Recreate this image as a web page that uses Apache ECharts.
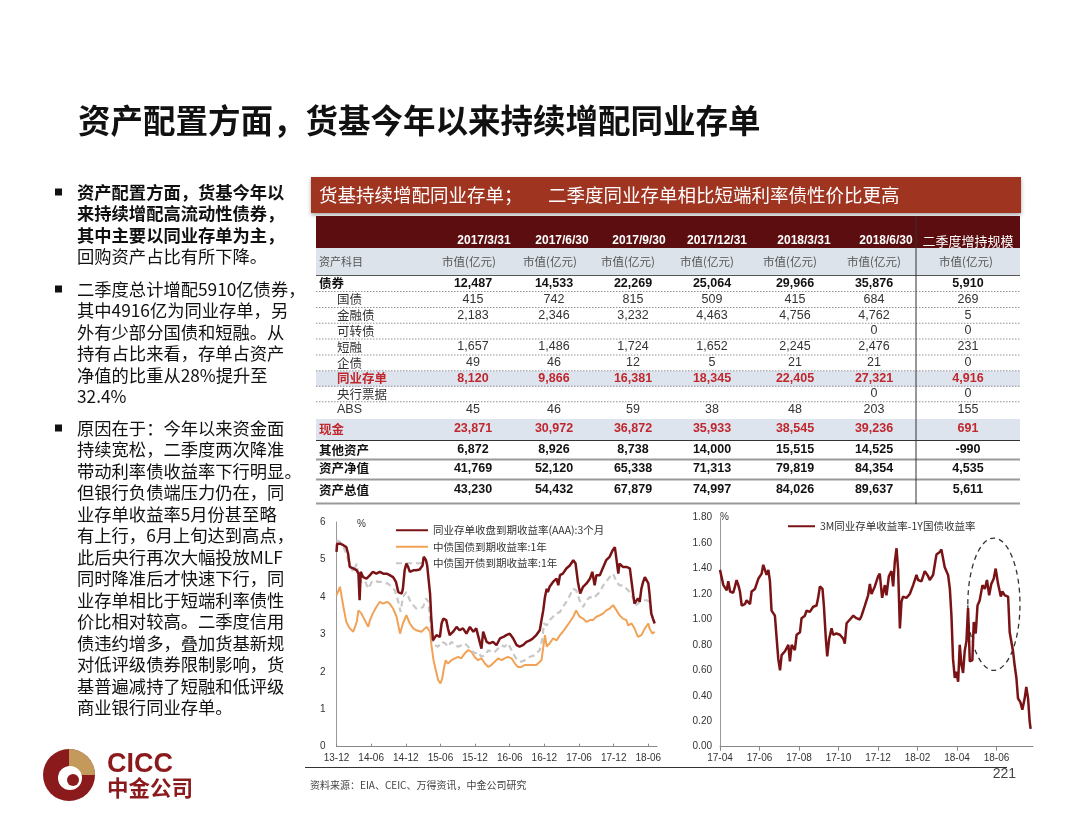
<!DOCTYPE html>
<html>

<head>
    <meta charset="utf-8" />
    <script src="https://cdn.jsdelivr.net/npm/echarts@6/dist/echarts.min.js"></script>
    <style>
        html, body { margin: 0; padding: 0; background: #fff; }
    </style>
</head>

<body>
    <div id="main" style="width: 1080px;height:834px;"></div>
    <script type="text/javascript">
        const SANS = '"Liberation Sans", Arial, "Noto Sans CJK SC", sans-serif';
        const CJK = '"Noto Sans CJK SC", sans-serif';
        const DARK_RED = '#7A1315';
        const HL_RED = '#C0272D';

        // ---- texts ----
        const TITLE = '资产配置方面，货基今年以来持续增配同业存单';
        const TABLE_TITLE_A = '货基持续增配同业存单；';
        const TABLE_TITLE_B = '二季度同业存单相比短端利率债性价比更高';
        const SOURCE = '资料来源：EIA、CEIC、万得资讯，中金公司研究';
        const PAGE_NO = '221';

        const para1 = ['资产配置方面，货基今年以', '来持续增配高流动性债券，', '其中主要以同业存单为主，', '回购资产占比有所下降。'];
        const para2 = ['二季度总计增配5910亿债券，', '其中4916亿为同业存单，另', '外有少部分国债和短融。从',
            '持有占比来看，存单占资产', '净值的比重从28%提升至', '32.4%'];
        const para3 = ['原因在于：今年以来资金面', '持续宽松，二季度两次降准', '带动利率债收益率下行明显。',
            '但银行负债端压力仍在，同', '业存单收益率5月份甚至略', '有上行，6月上旬达到高点，',
            '此后央行再次大幅投放MLF', '同时降准后才快速下行，同', '业存单相比于短端利率债性',
            '价比相对较高。二季度信用', '债违约增多，叠加货基新规', '对低评级债券限制影响，货',
            '基普遍减持了短融和低评级', '商业银行同业存单。'];

        // ---- table data (亿元) ----
        const tableDates = ['2017/3/31', '2017/6/30', '2017/9/30', '2017/12/31', '2018/3/31', '2018/6/30'];
        const lastHeader = '二季度增持规模';
        const rowLabels = ['债券', '国债', '金融债', '可转债', '短融', '企债', '同业存单', '央行票据', 'ABS',
            '现金', '其他资产', '资产净值', '资产总值'];
        const bonds = [12487, 14533, 22269, 25064, 29966, 35876, 5910];
        const govBonds = [415, 742, 815, 509, 415, 684, 269];
        const finBonds = [2183, 2346, 3232, 4463, 4756, 4762, 5];
        const convBonds = [null, null, null, null, null, 0, 0];
        const cps = [1657, 1486, 1724, 1652, 2245, 2476, 231];
        const corpBonds = [49, 46, 12, 5, 21, 21, 0];
        const ncds = [8120, 9866, 16381, 18345, 22405, 27321, 4916];
        const cbBills = [null, null, null, null, null, 0, 0];
        const abs = [45, 46, 59, 38, 48, 203, 155];
        const cash = [23871, 30972, 36872, 35933, 38545, 39236, 691];
        const otherAssets = [6872, 8926, 8738, 14000, 15515, 14525, -990];
        const netAssets = [41769, 52120, 65338, 71313, 79819, 84354, 4535];
        const totalAssets = [43230, 54432, 67879, 74997, 84026, 89637, 5611];
        const rowValues = [bonds, govBonds, finBonds, convBonds, cps, corpBonds, ncds, cbBills, abs,
            cash, otherAssets, netAssets, totalAssets];

        // ---- left chart: yields (%), x = months since 2013-12 ----
        const ncdName = '同业存单收盘到期收益率(AAA):3个月';
        const tbName = '中债国债到期收益率:1年';
        const cdbName = '中债国开债到期收益率:1年';
        const ncdYield = [[0,5.2],[0.1,5.42],[0.6,5.42],[1.2,5.38],[1.7,5.33],[2.0,5.16],[2.3,4.8],[2.9,4.76],[3.5,4.71],[3.8,4.62],[4.0,3.91],[4.2,4.67],[4.6,4.53],[5.2,4.49],[5.8,4.58],[6.3,4.67],[6.9,4.62],[7.5,4.67],[8.1,4.62],[8.7,4.62],[9.2,4.58],[9.8,4.53],[10.3,4.4],[10.7,4.13],[11.3,4.09],[11.5,4.22],[11.8,4.71],[12.1,4.89],[12.4,4.8],[12.7,4.67],[13.3,4.71],[13.8,4.71],[14.4,4.73],[14.9,4.84],[15.1,5.07],[15.5,4.98],[15.7,4.84],[15.9,4.8],[16.2,4.09],[16.4,3.47],[16.7,2.84],[17.0,2.89],[17.3,2.98],[17.6,3.02],[17.9,2.93],[18.2,3.29],[18.5,3.42],[18.8,3.38],[19.0,3.38],[19.3,3.16],[19.6,2.98],[19.9,2.93],[20.2,3.07],[20.8,3.2],[21.3,3.11],[21.9,3.16],[22.5,3.02],[23.1,3.2],[23.7,3.07],[24.2,3.16],[24.8,2.8],[25.1,2.62],[25.4,3.07],[25.7,2.93],[26.0,2.8],[26.5,2.76],[27.1,2.8],[27.7,2.71],[28.3,2.89],[28.9,2.93],[29.4,2.98],[30.0,3.02],[30.6,2.89],[31.2,2.71],[31.7,2.67],[32.3,2.71],[32.9,2.8],[33.5,2.84],[34.0,2.89],[34.6,2.98],[35.2,3.11],[35.5,3.38],[35.8,3.64],[36.1,4.0],[36.4,4.22],[36.6,4.13],[36.9,4.27],[37.5,4.4],[38.1,4.49],[38.4,4.31],[38.7,4.58],[39.2,4.62],[39.8,4.76],[40.4,4.84],[41.0,4.98],[41.4,4.89],[41.8,4.4],[42.2,4.09],[42.7,4.27],[43.3,4.36],[43.9,4.49],[44.3,4.67],[44.7,4.31],[45.0,4.58],[45.6,4.58],[46.2,4.8],[46.7,4.98],[47.3,5.07],[47.8,5.24],[48.2,5.33],[48.5,4.98],[48.8,4.62],[49.0,4.89],[49.6,4.8],[50.2,4.8],[50.8,4.76],[51.1,4.4],[51.4,4.04],[51.6,3.82],[52.2,3.96],[52.5,3.87],[52.8,4.22],[53.1,4.4],[53.4,4.53],[53.7,4.49],[54.0,4.36],[54.2,4.09],[54.5,3.56],[54.8,3.42],[55.1,3.29]];
        const tbYield = [[0,4.04],[0.6,4.27],[0.9,4.0],[1.2,3.73],[1.7,3.33],[2.3,3.16],[2.9,3.07],[3.5,3.33],[3.8,3.64],[4.3,3.56],[4.9,3.38],[5.5,3.2],[5.8,3.38],[6.3,3.56],[6.9,3.73],[7.5,3.87],[8.1,3.82],[8.7,3.87],[9.2,3.82],[9.8,3.69],[10.4,3.47],[11.0,3.02],[11.5,3.29],[12.1,3.51],[12.7,3.29],[13.3,3.16],[13.8,3.11],[14.7,3.07],[15.6,3.2],[16.2,3.07],[16.4,2.76],[16.8,2.31],[17.2,2.04],[17.6,1.78],[18.0,1.69],[18.3,1.82],[18.6,2.09],[18.9,2.31],[19.3,2.22],[19.9,2.31],[20.5,2.36],[21.1,2.4],[21.6,2.36],[22.2,2.49],[22.8,2.58],[23.4,2.53],[23.9,2.4],[24.5,2.31],[25.1,2.36],[25.7,2.22],[26.3,2.13],[26.8,2.18],[27.4,2.27],[28.0,2.36],[28.6,2.31],[29.1,2.36],[29.7,2.4],[30.3,2.36],[30.9,2.22],[31.4,2.13],[32.0,2.13],[32.6,2.18],[33.2,2.18],[33.8,2.18],[34.6,2.18],[35.5,2.31],[35.9,2.76],[36.1,2.98],[36.4,2.67],[36.9,2.76],[37.5,2.89],[38.1,2.84],[38.7,2.98],[39.2,3.07],[39.8,3.2],[40.4,3.33],[41.0,3.47],[41.5,3.64],[42.1,3.47],[42.7,3.42],[43.3,3.33],[43.9,3.38],[44.4,3.38],[45.0,3.47],[45.6,3.51],[46.2,3.56],[46.7,3.64],[47.3,3.69],[47.9,3.78],[48.2,3.78],[48.5,3.64],[49.0,3.51],[49.6,3.42],[50.2,3.38],[50.5,3.24],[51.1,3.29],[51.6,3.16],[52.2,2.93],[52.8,2.98],[53.4,3.16],[54.0,3.29],[54.2,3.16],[54.7,3.02],[55.1,3.07]];
        const cdbYield = [[0,5.51],[0.6,5.47],[1.2,5.33],[1.7,5.16],[2.3,4.84],[2.9,4.67],[3.5,4.89],[3.8,4.53],[4.3,4.4],[4.9,4.44],[5.5,4.22],[6.1,4.4],[6.6,4.44],[7.2,4.4],[7.8,4.4],[8.4,4.36],[8.9,4.36],[9.5,4.27],[10.1,4.18],[10.7,3.87],[11.1,3.6],[11.5,4.0],[12.1,4.13],[12.7,3.91],[13.3,3.78],[13.8,3.69],[14.4,3.69],[15.0,3.73],[15.5,3.96],[15.9,3.87],[16.2,3.38],[16.6,2.84],[17.0,2.71],[17.6,2.67],[18.2,2.8],[18.8,2.76],[19.3,2.67],[19.9,2.8],[20.5,2.71],[21.1,2.67],[21.6,2.71],[22.2,2.76],[22.8,2.67],[23.4,2.58],[23.9,2.49],[24.5,2.53],[25.1,2.4],[25.7,2.44],[26.3,2.58],[26.8,2.53],[27.4,2.53],[28.0,2.62],[28.6,2.71],[29.1,2.67],[29.7,2.76],[30.3,2.58],[30.9,2.4],[31.4,2.31],[32.0,2.27],[32.6,2.31],[33.5,2.4],[34.3,2.44],[35.2,2.58],[35.7,2.93],[35.9,3.29],[36.4,3.24],[36.9,3.38],[37.5,3.47],[38.1,3.56],[38.7,3.6],[39.2,3.73],[39.8,3.87],[40.4,4.04],[41.0,4.22],[41.5,4.18],[42.1,3.91],[42.7,3.73],[43.3,3.91],[43.9,4.0],[44.4,3.96],[45.0,4.04],[45.6,4.13],[46.2,4.31],[46.7,4.4],[47.3,4.53],[47.9,4.62],[48.5,4.4],[49.0,4.31],[49.6,4.31],[50.2,4.22],[50.8,4.13],[51.4,3.96],[51.9,3.78],[52.5,3.87],[53.1,3.91],[53.7,3.91],[54.2,3.87],[54.7,3.47],[55.1,3.24]];

        // ---- right chart: spread (%), x = months since 2017-04 ----
        const spreadName = '3M同业存单收益率-1Y国债收益率';
        const spread = [[0,1.39],[0.17,1.27],[0.34,1.23],[0.42,1.30],[0.51,1.22],[0.67,1.21],[0.76,1.26],[0.84,1.31],[0.93,1.27],[1.01,1.22],[1.10,1.11],[1.26,1.12],[1.35,1.15],[1.52,1.12],[1.60,1.22],[1.77,1.24],[1.94,1.32],[2.11,1.36],[2.19,1.43],[2.36,1.35],[2.45,1.39],[2.53,1.30],[2.61,1.07],[2.78,1.03],[2.87,0.85],[2.95,0.69],[3.04,0.60],[3.12,0.72],[3.29,0.75],[3.46,0.80],[3.54,0.67],[3.63,0.80],[3.79,0.76],[3.88,0.88],[4.05,0.90],[4.13,1.01],[4.30,1.03],[4.38,1.07],[4.55,1.06],[4.72,1.10],[4.89,1.11],[4.97,1.17],[5.06,1.26],[5.19,1.24],[5.26,1.11],[5.36,0.85],[5.43,0.71],[5.53,0.85],[5.65,0.93],[5.73,0.88],[5.90,0.89],[6.07,0.88],[6.24,0.85],[6.32,0.81],[6.41,0.97],[6.58,1.00],[6.75,1.03],[6.91,1.01],[7.08,1.00],[7.17,1.03],[7.34,1.11],[7.50,1.19],[7.59,1.28],[7.67,1.20],[7.84,1.26],[8.01,1.34],[8.09,1.36],[8.21,1.17],[8.35,1.27],[8.43,1.19],[8.55,1.34],[8.68,1.38],[8.77,1.26],[8.85,1.45],[8.94,1.56],[9.02,1.39],[9.11,0.93],[9.19,1.14],[9.27,1.18],[9.44,1.17],[9.61,1.20],[9.78,1.27],[9.95,1.35],[10.03,1.31],[10.20,1.30],[10.37,1.38],[10.54,1.34],[10.62,1.31],[10.79,1.35],[10.96,1.51],[11.13,1.53],[11.21,1.55],[11.38,1.41],[11.55,1.35],[11.64,1.24],[11.72,1.03],[11.80,0.69],[11.89,0.54],[11.97,0.59],[12.06,0.51],[12.14,0.80],[12.23,0.64],[12.31,0.58],[12.39,0.75],[12.48,0.83],[12.56,1.09],[12.65,0.67],[12.78,0.68],[12.85,0.98],[12.95,0.89],[13.04,1.11],[13.15,1.15],[13.29,1.27],[13.41,1.24],[13.52,1.31],[13.63,1.19],[13.74,1.28],[13.86,1.32],[13.96,1.40],[14.08,1.28],[14.22,1.18],[14.30,1.22],[14.42,1.19],[14.59,1.18],[14.67,0.90],[14.76,0.89],[14.84,0.75],[14.92,0.64],[15.01,0.54],[15.09,0.38],[15.21,0.35],[15.31,0.29],[15.43,0.38],[15.51,0.47],[15.60,0.38],[15.68,0.20],[15.73,0.14]];
        // dashed ring drawn round the May-Jun 2018 hump (data units)
        const ringCenter = [13.87, 1.12];
        const ringRadius = [1.32, 0.52];

        // ---- helpers ----
        function monthLabel(startYear, startMonth, step) {
            return function (v) {
                if (Math.abs(v % step) > 1e-6) return '';
                const total = startYear * 12 + (startMonth - 1) + Math.round(v);
                const y = Math.floor(total / 12), m = total % 12 + 1;
                return String(y).slice(2) + '-' + (m < 10 ? '0' + m : m);
            };
        }
        function fmt(v) {
            return v == null ? '' : v.toLocaleString('en-US');
        }
        function text(x, y, s, opt) {
            return {
                type: 'text', x: x, y: y, silent: true,
                style: Object.assign({
                    text: s, fill: '#222', fontSize: 12, fontFamily: CJK,
                    textAlign: 'left', textVerticalAlign: 'middle', verticalAlign: 'middle'
                }, opt || {})
            };
        }
        function rect(x, y, w, h, fill, extra) {
            return { type: 'rect', silent: true, shape: { x: x, y: y, width: w, height: h }, style: Object.assign({ fill: fill }, extra || {}) };
        }
        function line(x1, y1, x2, y2, stroke, lw, dash) {
            return {
                type: 'line', silent: true, shape: { x1: x1, y1: y1, x2: x2, y2: y2 },
                style: { stroke: stroke, lineWidth: lw, lineDash: dash || null }
            };
        }

        // ---- static page pieces ----
        const els = [];
        els.push(text(78, 121, TITLE, { fontSize: 32.5, fontWeight: 'bold', fill: '#111' }));

        // bullets
        const paras = [para1, para2, para3];
        const paraTop = [192, 289, 428];
        const boldLines = [3, 0, 0];
        paras.forEach(function (lines, p) {
            els.push(rect(55, paraTop[p] - 3.5, 7, 7, '#111'));
            lines.forEach(function (s, i) {
                els.push(text(77, paraTop[p] + i * 21.5, s, {
                    fontSize: 17.3, fill: '#111', fontWeight: i < boldLines[p] ? 'bold' : 'normal'
                }));
            });
        });

        // logo
        els.push({ type: 'circle', silent: true, shape: { cx: 69, cy: 775, r: 26 }, style: { fill: '#8B1A1D' } });
        els.push({ type: 'sector', silent: true, shape: { cx: 69, cy: 775, r: 26, r0: 0, startAngle: -Math.PI / 2, endAngle: 0 }, style: { fill: '#C49A5C' } });
        els.push({ type: 'circle', silent: true, shape: { cx: 70, cy: 778, r: 12 }, style: { fill: '#fff' } });
        els.push({ type: 'circle', silent: true, shape: { cx: 73, cy: 780, r: 6 }, style: { fill: '#8B1A1D' } });
        els.push(text(107, 765, 'CICC', { fontSize: 27, fontWeight: 'bold', fontFamily: SANS, fill: '#8B1A1D' }));
        els.push(text(107, 788, '中金公司', { fontSize: 21.5, fontWeight: 'bold', fill: '#8B1A1D' }));

        // table
        const L = 316, R = 1020;
        const valueX = [473, 554, 633, 712, 795, 874, 968];
        const dateX = [484, 562, 639, 717, 804, 886];
        const unitX = [469, 550, 628, 707, 790, 874, 966];
        const rowY = [283.5, 299.5, 315.5, 331, 347, 363, 378.5, 394, 409.5, 429, 450, 468.5, 490];
        const rowKind = ['main', 'sub', 'sub', 'sub', 'sub', 'sub', 'hl', 'sub', 'sub', 'hlMain', 'main', 'main', 'main'];

        els.push(rect(311, 177, 710, 36, '#9F3420', { shadowBlur: 4, shadowColor: 'rgba(0,0,0,0.35)', shadowOffsetY: 2 }));
        els.push(text(319, 195, TABLE_TITLE_A, { fontSize: 18.5, fill: '#fff' }));
        els.push(text(548, 195, TABLE_TITLE_B, { fontSize: 18.5, fill: '#fff' }));
        els.push(rect(L, 216, R - L, 32, '#5B0D0F'));
        tableDates.forEach(function (d, i) {
            els.push(text(dateX[i], 241, d, { fontSize: 12, fontWeight: 'bold', fontFamily: SANS, fill: '#fff', textAlign: 'center' }));
        });
        els.push(text(968, 241, lastHeader, { fontSize: 13, fill: '#fff', textAlign: 'center' }));
        els.push(rect(L, 248, R - L, 27, '#DDE3EA'));
        els.push(line(L, 275.5, R, 275.5, '#555', 1));
        els.push(text(319, 262, '资产科目', { fontSize: 11, fill: '#555' }));
        unitX.forEach(function (x) {
            els.push(text(x, 262, '市值(亿元)', { fontSize: 11.5, fill: '#555', textAlign: 'center' }));
        });
        // highlight bands
        els.push(rect(L, 371, R - L, 15.5, '#DDE4EE'));
        els.push(rect(L, 419, R - L, 21, '#DDE4EE'));
        // separators
        for (let i = 0; i < 8; i++) {
            const y = (rowY[i] + rowY[i + 1]) / 2;
            els.push(line(L, y, R, y, '#777', 0.8, [1.5, 1.5]));
        }
        els.push(line(L, 440.5, R, 440.5, '#333', 1));
        els.push(line(L, 459.5, R, 459.5, '#999', 2));
        els.push(line(L, 479.5, R, 479.5, '#999', 2));
        els.push(line(L, 503.5, R, 503.5, '#999', 2));
        els.push(line(916, 216, 916, 504, '#333', 1));

        rowLabels.forEach(function (lab, r) {
            const kind = rowKind[r];
            const isSub = kind === 'sub' || kind === 'hl';
            const red = kind === 'hl' || kind === 'hlMain';
            const bold = kind !== 'sub';
            const color = red ? HL_RED : (kind === 'sub' ? '#333' : '#111');
            const labFont = lab === 'ABS' ? SANS : CJK;
            els.push(text(isSub ? 337 : 319, rowY[r], lab, {
                fontSize: 12.5, fill: color, fontWeight: bold ? 'bold' : 'normal', fontFamily: labFont
            }));
            rowValues[r].forEach(function (v, c) {
                els.push(text(valueX[c], rowY[r], fmt(v), {
                    fontSize: 12.5, fill: color, fontWeight: bold ? 'bold' : 'normal',
                    fontFamily: SANS, textAlign: 'center'
                }));
            });
        });

        // chart decorations
        els.push(text(357, 524, '%', { fontSize: 10, fontFamily: SANS, fill: '#333' }));
        els.push(text(720, 517, '%', { fontSize: 10, fontFamily: SANS, fill: '#333' }));
        els.push(line(305, 767.5, 1007, 767.5, '#333', 1));
        els.push(text(1016, 774, PAGE_NO, { fontSize: 14, fontFamily: SANS, fill: '#444', textAlign: 'right' }));
        els.push(text(310, 785, SOURCE, { fontSize: 10, fill: '#444' }));

        // ---- chart ----
        const axisLabelStyle = { fontSize: 10, color: '#333', fontFamily: SANS };
        const chart = echarts.init(document.getElementById('main'));
        const option = {
            backgroundColor: '#fff',
            animation: false,
            grid: [
                { left: 336.5, top: 522, width: 320.5, height: 224.7 },
                { left: 720, top: 517.7, width: 313, height: 229 }
            ],
            xAxis: [{
                gridIndex: 0, type: 'value', min: 0, max: 55.5, interval: 6,
                axisLine: { lineStyle: { color: '#888' } },
                axisTick: { inside: true, length: 3, lineStyle: { color: '#888' } },
                splitLine: { show: false },
                axisLabel: Object.assign({ formatter: monthLabel(2013, 12, 6), margin: 7, showMaxLabel: false }, axisLabelStyle)
            }, {
                gridIndex: 1, type: 'value', min: 0, max: 15.85, interval: 2,
                axisLine: { lineStyle: { color: '#888' } },
                axisTick: { length: 4, lineStyle: { color: '#888' } },
                splitLine: { show: false },
                axisLabel: Object.assign({ formatter: monthLabel(2017, 4, 2), margin: 7, showMaxLabel: false }, axisLabelStyle)
            }],
            yAxis: [{
                gridIndex: 0, type: 'value', min: 0, max: 6, interval: 1,
                axisLine: { show: true, lineStyle: { color: '#999' } },
                axisTick: { show: false },
                splitLine: { show: false },
                axisLabel: Object.assign({ margin: 11 }, axisLabelStyle)
            }, {
                gridIndex: 1, type: 'value', min: 0, max: 1.8, interval: 0.2,
                axisLine: { show: true, lineStyle: { color: '#999' } },
                axisTick: { show: false },
                splitLine: { show: false },
                axisLabel: Object.assign({ margin: 8, formatter: function (v) { return v.toFixed(2); } }, axisLabelStyle)
            }],
            legend: [{
                data: [ncdName, tbName, cdbName],
                orient: 'vertical', left: 390, top: 520, itemWidth: 32, itemHeight: 12, itemGap: 6,
                itemStyle: { opacity: 0 },
                textStyle: { fontSize: 10.5, color: '#333', fontFamily: CJK }
            }, {
                data: [spreadName],
                left: 782, top: 516, itemWidth: 27, itemHeight: 12,
                itemStyle: { opacity: 0 },
                textStyle: { fontSize: 10.5, color: '#333', fontFamily: CJK }
            }],
            series: [{
                name: tbName, type: 'line', xAxisIndex: 0, yAxisIndex: 0, data: tbYield,
                symbol: 'none', z: 2, lineStyle: { color: '#F2A257', width: 2 }, itemStyle: { color: '#F2A257' }
            }, {
                name: cdbName, type: 'line', xAxisIndex: 0, yAxisIndex: 0, data: cdbYield,
                symbol: 'none', z: 3, lineStyle: { color: '#C8C8C8', width: 2.2, type: [6, 4] }, itemStyle: { color: '#C8C8C8' }
            }, {
                name: ncdName, type: 'line', xAxisIndex: 0, yAxisIndex: 0, data: ncdYield,
                symbol: 'none', z: 4, lineStyle: { color: DARK_RED, width: 2.5 }, itemStyle: { color: DARK_RED }
            }, {
                name: spreadName, type: 'line', xAxisIndex: 1, yAxisIndex: 1, data: spread,
                symbol: 'none', lineStyle: { color: DARK_RED, width: 2.5 }, itemStyle: { color: DARK_RED }
            }],
            graphic: { elements: els }
        };
        chart.setOption(option);

        // dashed ring placed through the right chart's own scales
        const c = chart.convertToPixel({ gridIndex: 1 }, ringCenter);
        const e = chart.convertToPixel({ gridIndex: 1 }, [ringCenter[0] + ringRadius[0], ringCenter[1] + ringRadius[1]]);
        els.push({
            type: 'ellipse', silent: true,
            shape: { cx: c[0], cy: c[1], rx: Math.abs(e[0] - c[0]), ry: Math.abs(c[1] - e[1]) },
            style: { fill: 'none', stroke: '#333', lineWidth: 1.3, lineDash: [5, 4] }
        });
        chart.setOption({ graphic: { elements: els } });
    </script>
</body>

</html>
